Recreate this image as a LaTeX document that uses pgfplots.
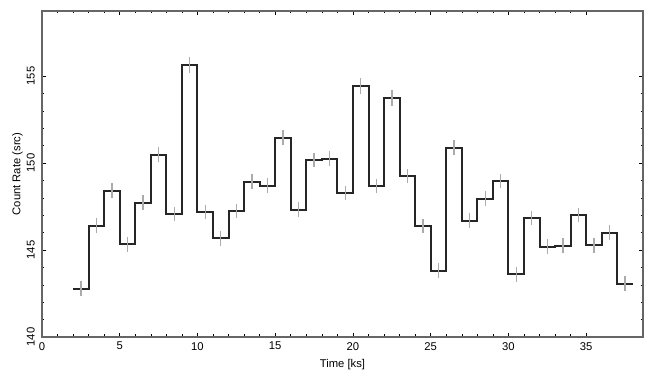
\documentclass[border=0pt]{standalone}
\usepackage{pgfplots}
\pgfplotsset{compat=1.18}
\usepackage{pgfplotstable}
\usepackage{fontspec}
\setmainfont{Liberation Sans}

\pgfplotstableread{
x y
2 142.78
3 146.40
4 148.41
5 145.33
6 147.72
7 150.48
8 147.07
9 155.64
10 147.18
11 145.67
12 147.24
13 148.93
14 148.70
15 151.46
16 147.32
17 150.17
18 150.26
19 148.27
20 154.43
21 148.68
22 153.74
23 149.26
24 146.37
25 143.82
26 150.87
27 146.68
28 147.96
29 148.97
30 143.60
31 146.83
32 145.19
33 145.25
34 147.02
35 145.27
36 146.00
37 143.07
38 143.07
}\steps

\pgfplotstableread{
xc y e
2.5 142.78 0.42
3.5 146.40 0.42
4.5 148.41 0.42
5.5 145.33 0.42
6.5 147.72 0.42
7.5 150.48 0.42
8.5 147.07 0.42
9.5 155.64 0.44
10.5 147.18 0.42
11.5 145.67 0.42
12.5 147.24 0.42
13.5 148.93 0.42
14.5 148.70 0.42
15.5 151.46 0.43
16.5 147.32 0.42
17.5 150.17 0.42
18.5 150.26 0.42
19.5 148.27 0.42
20.5 154.43 0.44
21.5 148.68 0.42
22.5 153.74 0.44
23.5 149.26 0.42
24.5 146.37 0.42
25.5 143.82 0.42
26.5 150.87 0.43
27.5 146.68 0.42
28.5 147.96 0.42
29.5 148.97 0.42
30.5 143.60 0.42
31.5 146.83 0.42
32.5 145.19 0.42
33.5 145.25 0.42
34.5 147.02 0.42
35.5 145.27 0.42
36.5 146.00 0.42
37.5 143.07 0.42
}\errs

\begin{document}
\begin{tikzpicture}
\begin{axis}[
  name=ax,
  scale only axis,
  width=601bp, height=326bp,
  xmin=0, xmax=38.65,
  ymin=140, ymax=158.74,
  xtick={0,5,...,35},
  ytick={140,145,150,155},
  minor x tick num=4,
  minor y tick num=4,
  tick align=inside,
  major tick length=4bp,
  minor tick length=2.5bp,
  tick style={black, line width=0.6bp},
  axis line style={draw=black!60, line width=1.2bp},
  /pgf/number format/assume math mode=true,
  xticklabel style={font=\fontsize{11.3}{13}\selectfont, anchor=north, inner sep=0pt, yshift=-5bp},
  yticklabel style={font=\fontsize{11.3}{13}\selectfont, rotate=90, anchor=south, inner sep=0pt, yshift=7bp},
  xlabel={Time [ks]},
  ylabel={Count Rate (src)},
  label style={font=\fontsize{11.3}{13}\selectfont},
  xlabel style={at={(axis description cs:0.5,0)}, anchor=north, yshift=-22bp, inner sep=0pt},
  ylabel style={at={(axis description cs:0,0.5)}, anchor=south, rotate=0, yshift=19bp, inner sep=0pt},
  clip=false,
]
\addplot[const plot mark left, draw=black!85, line width=2bp, line join=miter, no markers] table[x=x,y=y]{\steps};
\addplot[draw=none, no markers,
  error bars/.cd, y dir=both, y explicit,
  error mark=none,
  error bar style={draw=black!33, solid, line width=1.3bp}]
  table[x=xc, y=y, y error=e]{\errs};
\end{axis}
\path ([shift={(-42bp,-48bp)}]ax.south west) rectangle ([shift={(12bp,11bp)}]ax.north east);
\end{tikzpicture}
\end{document}
